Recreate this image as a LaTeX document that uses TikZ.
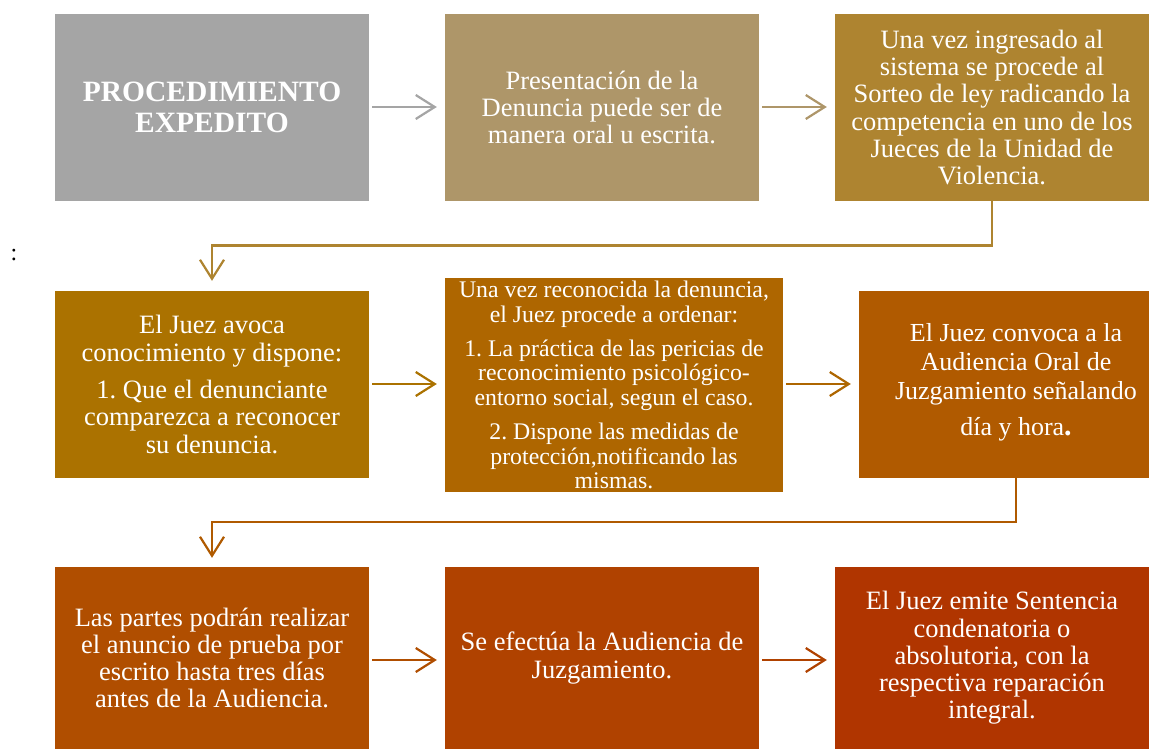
\documentclass[tikz,border=0pt]{standalone}
\usepackage{fontspec}
\setmainfont{Liberation Serif}
\usetikzlibrary{arrows.meta}
\definecolor{cA}{HTML}{A5A5A5}
\definecolor{cB}{HTML}{AE9669}
\definecolor{cC}{HTML}{AE8430}
\definecolor{cD}{HTML}{AB7200}
\definecolor{cE}{HTML}{AE6600}
\definecolor{cF}{HTML}{B05A00}
\definecolor{cG}{HTML}{B04E00}
\definecolor{cH}{HTML}{B04200}
\definecolor{cI}{HTML}{B03500}
\frenchspacing
\tikzset{
  box/.style={fill=#1, text=white, align=center, inner sep=0pt, draw=none},
  conn/.style={draw=#1, line width=2.2pt, -{Straight Barb[length=19pt,width=24pt]}},
  txt/.style={font=\fontsize{26.5}{27.3}\selectfont}
}
\begin{document}
\begin{tikzpicture}[x=1pt,y=-1pt]
\useasboundingbox (0,0) rectangle (1167,749);
\fill[white] (0,0) rectangle (1167,749);
% row 1
\node[box=cA, minimum width=314pt, minimum height=187pt, font=\fontsize{29.5}{31}\selectfont\bfseries] (b1) at (212,107.5) {PROCEDIMIENTO\\EXPEDITO};
\node[box=cB, minimum width=314pt, minimum height=187pt, txt] (b2) at (602,107.5) {Presentación de la\\Denuncia puede ser de\\manera oral u escrita.};
\node[box=cC, minimum width=314pt, minimum height=187pt, txt] (b3) at (992,107.5) {Una vez ingresado al\\sistema se procede al\\Sorteo de ley radicando la\\competencia en uno de los\\Jueces de la Unidad de\\Violencia.};
% colon
\node[font=\fontsize{24}{26}\selectfont] (colon) at (14,255) {:};
% row 2
\node[box=cD, minimum width=314pt, minimum height=187pt, txt] (b4) at (212,384.5) {El Juez avoca\\conocimiento y dispone:\\[10pt]1. Que el denunciante\\comparezca a reconocer\\su denuncia.};
\node[box=cE, minimum width=338pt, minimum height=214pt, font=\fontsize{23.8}{24.2}\selectfont] (b5) at (614,385) {Una vez reconocida la denuncia,\\el Juez procede a ordenar:\\[10.5pt]1. La práctica de las pericias de\\reconocimiento psicológico-\\entorno social, segun el caso.\\[10.5pt]2. Dispone las medidas de\\protección,notificando las\\mismas.};
\node[box=cF, minimum width=290pt, minimum height=187pt,
  label={[text=white, align=center, inner sep=0pt, xshift=12pt, yshift=2.5pt, font=\fontsize{26}{29}\selectfont]center:{El Juez convoca a la\\Audiencia Oral de\\Juzgamiento señalando\\[7pt]día y hora{\fontsize{30}{29}\selectfont\bfseries .}}}] (b6) at (1004,384.5) {};
% row 3
\node[box=cG, minimum width=314pt, minimum height=182pt, txt] (b7) at (212,658) {Las partes podrán realizar\\el anuncio de prueba por\\escrito hasta tres días\\antes de la Audiencia.};
\node[box=cH, minimum width=314pt, minimum height=182pt, txt] (b8) at (602,658) {Se efectúa la Audiencia de\\Juzgamiento.};
\node[box=cI, minimum width=314pt, minimum height=182pt, txt] (b9) at (992,658) {El Juez emite Sentencia\\condenatoria o\\absolutoria, con la\\respectiva reparación\\integral.};
% arrows row 1
\draw[conn=cA, shorten <=3pt, shorten >=8pt] (b1.east |- 0,107) -- (b2.west |- 0,107);
\draw[conn=cB, shorten <=3pt, shorten >=8pt] (b2.east |- 0,107) -- (b3.west |- 0,107);
% connector 1
\draw[conn=cC, shorten >=10pt] ([yshift=1pt]b3.south) -- (992,245.5) -- (212,245.5) -- (b4.north);
% arrows row 2
\draw[conn=cD, shorten <=3pt, shorten >=8pt] (b4.east |- 0,384) -- (b5.west |- 0,384);
\draw[conn=cE, shorten <=3pt, shorten >=8pt] (b5.east |- 0,384) -- (b6.west |- 0,384);
% connector 2
\draw[conn=cF, shorten >=9pt] ([xshift=12pt,yshift=3pt]b6.south) -- (1016,522) -- (212,522) -- (b7.north);
% arrows row 3
\draw[conn=cG, shorten <=3pt, shorten >=8pt] (b7.east |- 0,660) -- (b8.west |- 0,660);
\draw[conn=cH, shorten <=3pt, shorten >=8pt] (b8.east |- 0,660) -- (b9.west |- 0,660);
\end{tikzpicture}
\end{document}
